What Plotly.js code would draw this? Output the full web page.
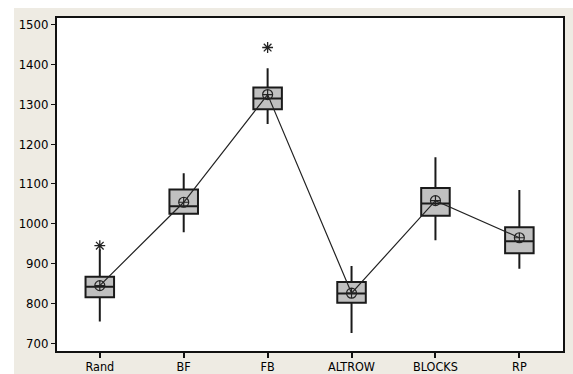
<!DOCTYPE html>
<html><head><meta charset="utf-8">
<script src="https://cdn.plot.ly/plotly-3.0.1.min.js"></script>
<style>html,body{margin:0;padding:0;background:#fff;}#c{position:absolute;left:14px;top:8px;width:559px;height:366px;}</style>
</head><body><div id="c"></div>
<script>
const categories = ["Rand","BF","FB","ALTROW","BLOCKS","RP"];
const q1 =        [816, 1025, 1287, 802, 1020, 926];
const median =    [842, 1044, 1314, 825, 1051, 956];
const q3 =        [867, 1086, 1342, 854, 1090, 991];
const lowWhisk =  [755, 979, 1250, 726, 959, 887];
const highWhisk = [936, 1127, 1390, 894, 1167, 1085];
const means =     [845, 1054, 1324, 826, 1058, 965];
const outlierCats = ["Rand","FB"];
const outlierVals = [945, 1442];
const yTicks = [700,800,900,1000,1100,1200,1300,1400,1500];

const traces = [
 {type:"box", x:categories, q1:q1, median:median, q3:q3, lowerfence:lowWhisk, upperfence:highWhisk,
  fillcolor:"#c0c0c0", line:{color:"#1a1a1a", width:2}, whiskerwidth:0, width:0.34, hoverinfo:"skip", showlegend:false},
 {type:"scatter", mode:"lines+markers", x:categories, y:means,
  line:{color:"#222", width:1.2}, marker:{symbol:"circle-cross-open", size:10, color:"#222", line:{width:1.2}}, showlegend:false},
 {type:"scatter", mode:"markers", x:outlierCats, y:outlierVals,
  marker:{symbol:"asterisk-open", size:9, color:"#222", line:{width:1.3, color:"#222"}}, showlegend:false}
];
const layout = {
 width:559, height:366, paper_bgcolor:"#eeebe3", plot_bgcolor:"#ffffff",
 margin:{l:43, r:10, t:10, b:23},
 font:{family:"DejaVu Sans Condensed, DejaVu Sans", size:13, color:"#000"},
 showlegend:false,
 xaxis:{type:"category", range:[-0.51,5.52], showline:true, linewidth:2, linecolor:"#111", mirror:true,
   tickfont:{size:12.5}, ticklabelstandoff:-2,
   ticks:"outside", ticklen:5, tickwidth:2, tickcolor:"#111", showgrid:false, zeroline:false, fixedrange:true},
 yaxis:{range:[681,1516], tickvals:yTicks, ticktext:yTicks.map(String), showline:true, linewidth:2, linecolor:"#111", mirror:true,
   ticks:"outside", ticklen:4, tickwidth:1, tickcolor:"#111", showgrid:false, zeroline:false, fixedrange:true}
};
Plotly.newPlot("c", traces, layout, {staticPlot:true, displayModeBar:false});
</script></body></html>
